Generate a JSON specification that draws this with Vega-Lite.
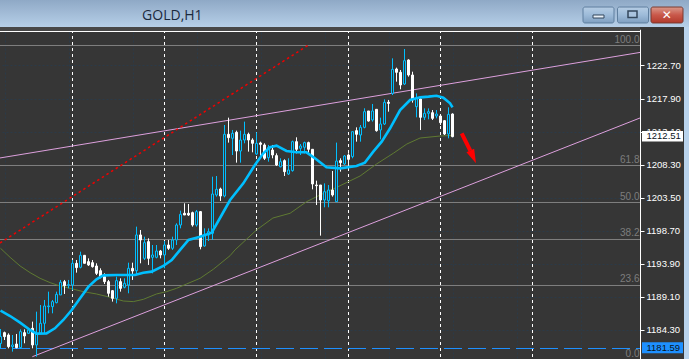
{"$schema":"https://vega.github.io/schema/vega-lite/v6.json","width":640,"height":359,"autosize":{"type":"none"},"padding":{"left":0,"right":49,"top":0,"bottom":0},"background":"#363636","view":{"fill":"#363636","stroke":null},
"datasets":{"candles":[
{"b":0,"o":1182.3,"h":1184.4,"l":1181.6,"c":1183.3,"d":"up"},{"b":1,"o":1183.87,"h":1184.02,"l":1182.8,"c":1183.29,"d":"down"},{"b":2,"o":1183.53,"h":1183.77,"l":1181.59,"c":1181.84,"d":"down"},{"b":3,"o":1181.84,"h":1183.53,"l":1181.11,"c":1182.08,"d":"up"},{"b":4,"o":1182.22,"h":1183.68,"l":1181.59,"c":1181.69,"d":"down"},{"b":5,"o":1181.69,"h":1184.35,"l":1181.59,"c":1184.02,"d":"up"},{"b":6,"o":1183.87,"h":1184.35,"l":1182.32,"c":1183.39,"d":"down"},{"b":7,"o":1183.77,"h":1184.5,"l":1183.68,"c":1184.26,"d":"up"},{"b":8,"o":1184.5,"h":1185.47,"l":1181.59,"c":1182.08,"d":"down"},{"b":9,"o":1182.08,"h":1186.92,"l":1180.38,"c":1183.68,"d":"up"},
{"b":10,"o":1183.77,"h":1187.89,"l":1183.77,"c":1185.23,"d":"up"},{"b":11,"o":1185.23,"h":1188.62,"l":1183.77,"c":1187.75,"d":"up"},{"b":12,"o":1187.65,"h":1189.83,"l":1186.68,"c":1187.75,"d":"up"},{"b":13,"o":1187.65,"h":1188.62,"l":1186.68,"c":1188.38,"d":"up"},{"b":14,"o":1188.23,"h":1189.83,"l":1188.13,"c":1189.44,"d":"up"},{"b":15,"o":1189.35,"h":1191.53,"l":1189.35,"c":1191.19,"d":"up"},{"b":16,"o":1191.28,"h":1191.53,"l":1189.49,"c":1190.7,"d":"down"},{"b":17,"o":1190.75,"h":1191.53,"l":1190.31,"c":1190.85,"d":"up"},{"b":18,"o":1190.8,"h":1194.43,"l":1190.07,"c":1193.95,"d":"up"},{"b":19,"o":1193.95,"h":1194.43,"l":1192.59,"c":1193.32,"d":"down"},
{"b":20,"o":1193.37,"h":1195.64,"l":1193.22,"c":1195.11,"d":"up"},{"b":21,"o":1195.11,"h":1195.16,"l":1193.95,"c":1193.95,"d":"down"},{"b":22,"o":1194.19,"h":1194.67,"l":1193.56,"c":1193.71,"d":"down"},{"b":23,"o":1194.04,"h":1194.43,"l":1193.32,"c":1193.46,"d":"down"},{"b":24,"o":1193.56,"h":1193.95,"l":1192.25,"c":1192.49,"d":"down"},{"b":25,"o":1192.88,"h":1193.22,"l":1191.77,"c":1192.01,"d":"down"},{"b":26,"o":1192.01,"h":1192.49,"l":1190.94,"c":1191.28,"d":"down"},{"b":27,"o":1191.28,"h":1191.53,"l":1189.1,"c":1189.59,"d":"down"},{"b":28,"o":1189.97,"h":1190.07,"l":1188.38,"c":1188.86,"d":"down"},{"b":29,"o":1188.86,"h":1192.01,"l":1188.13,"c":1191.43,"d":"up"},
{"b":30,"o":1191.28,"h":1191.77,"l":1189.83,"c":1190.31,"d":"down"},{"b":31,"o":1190.46,"h":1191.77,"l":1190.31,"c":1191.04,"d":"up"},{"b":32,"o":1190.8,"h":1194.04,"l":1189.59,"c":1193.22,"d":"up"},{"b":33,"o":1193.22,"h":1194.04,"l":1191.53,"c":1192.83,"d":"down"},{"b":34,"o":1192.88,"h":1199.28,"l":1192.25,"c":1198.07,"d":"up"},{"b":35,"o":1198.07,"h":1198.79,"l":1193.95,"c":1197.34,"d":"down"},{"b":36,"o":1194.67,"h":1197.82,"l":1194.43,"c":1196.95,"d":"up"},{"b":37,"o":1197.1,"h":1197.58,"l":1193.71,"c":1194.67,"d":"down"},{"b":38,"o":1194.82,"h":1196.61,"l":1192.49,"c":1195.16,"d":"up"},{"b":39,"o":1194.82,"h":1196.61,"l":1194.67,"c":1195.74,"d":"up"},
{"b":40,"o":1195.74,"h":1195.89,"l":1194.67,"c":1195.16,"d":"down"},{"b":41,"o":1195.16,"h":1197.19,"l":1193.22,"c":1196.61,"d":"up"},{"b":42,"o":1196.61,"h":1197.34,"l":1195.89,"c":1196.13,"d":"down"},{"b":43,"o":1196.13,"h":1197.82,"l":1195.89,"c":1197.34,"d":"up"},{"b":44,"o":1197.34,"h":1199.76,"l":1196.61,"c":1199.52,"d":"up"},{"b":45,"o":1199.52,"h":1201.6,"l":1199.03,"c":1201.07,"d":"up"},{"b":46,"o":1201.22,"h":1202.67,"l":1200.97,"c":1200.97,"d":"down"},{"b":47,"o":1201.22,"h":1202.57,"l":1200.83,"c":1200.97,"d":"down"},{"b":48,"o":1201.31,"h":1201.46,"l":1199.28,"c":1199.52,"d":"down"},{"b":49,"o":1199.52,"h":1201.7,"l":1199.28,"c":1201.46,"d":"up"},
{"b":50,"o":1201.46,"h":1201.55,"l":1195.98,"c":1196.37,"d":"down"},{"b":51,"o":1196.47,"h":1199.03,"l":1196.37,"c":1198.07,"d":"up"},{"b":52,"o":1198.07,"h":1199.03,"l":1197.19,"c":1198.55,"d":"up"},{"b":53,"o":1198.31,"h":1206.54,"l":1197.34,"c":1204.02,"d":"up"},{"b":54,"o":1203.88,"h":1206.64,"l":1203.64,"c":1204.7,"d":"up"},{"b":55,"o":1204.75,"h":1204.94,"l":1203.01,"c":1203.73,"d":"down"},{"b":56,"o":1203.73,"h":1214.05,"l":1203.54,"c":1212.7,"d":"up"},{"b":57,"o":1212.7,"h":1215.12,"l":1211.49,"c":1212.21,"d":"down"},{"b":58,"o":1212.12,"h":1213.33,"l":1209.69,"c":1212.84,"d":"up"},{"b":59,"o":1212.99,"h":1213.23,"l":1208.58,"c":1210.27,"d":"down"},
{"b":60,"o":1210.27,"h":1213.23,"l":1208.58,"c":1211.87,"d":"up"},{"b":61,"o":1211.87,"h":1214.54,"l":1211.39,"c":1212.7,"d":"up"},{"b":62,"o":1212.7,"h":1212.94,"l":1210.18,"c":1211.87,"d":"down"},{"b":63,"o":1211.87,"h":1212.12,"l":1210.08,"c":1211.39,"d":"down"},{"b":64,"o":1209.84,"h":1212.99,"l":1209.69,"c":1211.39,"d":"up"},{"b":65,"o":1211.44,"h":1211.63,"l":1209.45,"c":1211.24,"d":"down"},{"b":66,"o":1211.15,"h":1211.39,"l":1208.97,"c":1209.21,"d":"down"},{"b":67,"o":1209.3,"h":1211.15,"l":1208.72,"c":1210.81,"d":"up"},{"b":68,"o":1210.42,"h":1211.15,"l":1209.21,"c":1209.69,"d":"down"},{"b":69,"o":1209.6,"h":1209.93,"l":1208.09,"c":1208.24,"d":"down"},
{"b":70,"o":1207.98,"h":1209.21,"l":1207.9,"c":1208.72,"d":"up"},{"b":71,"o":1208.87,"h":1209.06,"l":1206.64,"c":1207.27,"d":"down"},{"b":72,"o":1206.93,"h":1209.21,"l":1206.79,"c":1207.51,"d":"up"},{"b":73,"o":1207.42,"h":1211.78,"l":1207.27,"c":1211.63,"d":"up"},{"b":74,"o":1211.63,"h":1212.26,"l":1209.93,"c":1210.52,"d":"down"},{"b":75,"o":1210.66,"h":1211.29,"l":1209.69,"c":1211,"d":"up"},{"b":76,"o":1210.81,"h":1211.63,"l":1209.93,"c":1211.49,"d":"up"},{"b":77,"o":1211.49,"h":1211.63,"l":1209.93,"c":1210.52,"d":"down"},{"b":78,"o":1210.52,"h":1210.52,"l":1204.7,"c":1205.48,"d":"down"},{"b":79,"o":1205.33,"h":1205.96,"l":1202.42,"c":1205.23,"d":"down"},
{"b":80,"o":1205.33,"h":1205.33,"l":1197.97,"c":1203.15,"d":"down"},{"b":81,"o":1203.15,"h":1205.57,"l":1202.09,"c":1204.36,"d":"up"},{"b":82,"o":1203.05,"h":1205.33,"l":1202.09,"c":1204.6,"d":"up"},{"b":83,"o":1204.6,"h":1207.37,"l":1203.64,"c":1203.88,"d":"down"},{"b":84,"o":1202.91,"h":1211.49,"l":1202.91,"c":1208.82,"d":"up"},{"b":85,"o":1208.87,"h":1209.21,"l":1207.27,"c":1208.58,"d":"down"},{"b":86,"o":1208.38,"h":1209.69,"l":1208.24,"c":1209.55,"d":"up"},{"b":87,"o":1209.69,"h":1209.93,"l":1208.09,"c":1209.06,"d":"down"},{"b":88,"o":1209.45,"h":1213.08,"l":1209.21,"c":1213.08,"d":"up"},{"b":89,"o":1213.23,"h":1213.71,"l":1211.63,"c":1212.7,"d":"down"},
{"b":90,"o":1212.6,"h":1214.05,"l":1211.63,"c":1213.71,"d":"up"},{"b":91,"o":1213.71,"h":1216.48,"l":1213.57,"c":1215.99,"d":"up"},{"b":92,"o":1216.09,"h":1216.09,"l":1214.54,"c":1214.63,"d":"down"},{"b":93,"o":1214.78,"h":1217.11,"l":1214.54,"c":1216.09,"d":"up"},{"b":94,"o":1216.33,"h":1216.33,"l":1213.08,"c":1213.23,"d":"down"},{"b":95,"o":1213.33,"h":1215.12,"l":1211.97,"c":1214.2,"d":"up"},{"b":96,"o":1214.2,"h":1217.78,"l":1214.05,"c":1217.35,"d":"up"},{"b":97,"o":1217.35,"h":1217.69,"l":1215.99,"c":1217.2,"d":"down"},{"b":98,"o":1218.65,"h":1223.74,"l":1218.41,"c":1222.14,"d":"up"},{"b":99,"o":1222.19,"h":1222.39,"l":1220.35,"c":1221.71,"d":"down"},
{"b":100,"o":1221.71,"h":1222.05,"l":1219.24,"c":1219.87,"d":"down"},{"b":101,"o":1220.01,"h":1225.1,"l":1219.87,"c":1223.4,"d":"up"},{"b":102,"o":1223.5,"h":1223.6,"l":1221.08,"c":1221.32,"d":"down"},{"b":103,"o":1221.32,"h":1221.8,"l":1217.3,"c":1217.69,"d":"down"},{"b":104,"o":1216.72,"h":1218.65,"l":1215.17,"c":1217.93,"d":"up"},{"b":105,"o":1217.83,"h":1217.93,"l":1213.32,"c":1215.17,"d":"down"},{"b":106,"o":1215.17,"h":1216.47,"l":1214.78,"c":1215.75,"d":"up"},{"b":107,"o":1215.75,"h":1216.47,"l":1214.88,"c":1215.99,"d":"up"},{"b":108,"o":1215.84,"h":1216.23,"l":1214.78,"c":1215.02,"d":"down"},{"b":109,"o":1215.36,"h":1216.23,"l":1215.02,"c":1215.65,"d":"up"},
{"b":110,"o":1215.36,"h":1215.51,"l":1214.05,"c":1214.39,"d":"down"},{"b":111,"o":1214.68,"h":1214.78,"l":1212.6,"c":1212.74,"d":"down"},{"b":112,"o":1212.74,"h":1216.62,"l":1212.11,"c":1215.6,"d":"up"},{"b":113,"o":1215.65,"h":1215.75,"l":1212.26,"c":1212.36,"d":"down"}
]},
"layer":[
{"data":{"values":[{"b":-0.125,"b2":159.875,"p":1225.607},{"b":-0.125,"b2":159.875,"p":1208.165},{"b":-0.125,"b2":159.875,"p":1202.787},{"b":-0.125,"b2":159.875,"p":1197.41},{"b":-0.125,"b2":159.875,"p":1190.724}]},"mark":{"type":"rule","color":"#808080","strokeWidth":1},
"encoding":{"x":{"field":"b","type":"quantitative","title":null,"scale":{"domain":[-0.125,159.875],"nice":false,"zero":false,"padding":0},"axis":{"values":[1,9,17,25,33,41,49,57,65,73,81,89,97,105,113,121,129,137,145,153],"labels":false,"ticks":false,"domain":false,"title":null,"grid":true,"gridColor":"#2b3a48","gridDash":[2,2],"gridWidth":1}},"x2":{"field":"b2"},
"y":{"field":"p","type":"quantitative","title":null,"scale":{"domain":[1180.04,1232.22],"nice":false,"zero":false},"axis":{"orient":"right","values":[1222.7,1217.9,1213.1,1208.3,1203.5,1198.7,1193.9,1189.1,1184.3],"format":".2f","title":null,"grid":true,"gridColor":"#2b3a48","gridDash":[2,2],"gridWidth":1,"domainColor":"#ffffff","domainWidth":1,"tickColor":"#ffffff","tickSize":4,"tickWidth":1,"labelColor":"#ffffff","labelFont":"Liberation Sans","labelFontSize":9.5,"labelPadding":2,"labelBaseline":"middle"}}}},
{"data":{"values":[{"b":18},{"b":41},{"b":64},{"b":87},{"b":110},{"b":133}]},"mark":{"type":"rule","color":"#ffffff","strokeWidth":1,"strokeDash":[3,3]},"encoding":{"x":{"field":"b","type":"quantitative","title":null}}},
{"data":{"values":[{"b":-0.125,"b2":159.875,"p":1181.565}]},"mark":{"type":"rule","color":"#1e90ff","strokeWidth":1,"strokeDash":[18,6],"strokeDashOffset":12},"encoding":{"x":{"field":"b","type":"quantitative","title":null},"x2":{"field":"b2"},"y":{"field":"p","type":"quantitative","title":null}}},
{"data":{"values":[{"b":-0.125,"p":1209.26,"s":"upper"},{"b":159.875,"p":1224.6,"s":"upper"},{"b":7.95,"p":1180.37,"s":"lower"},{"b":159.875,"p":1215.07,"s":"lower"}]},"mark":{"type":"line","color":"#dda0dd","strokeWidth":1},"encoding":{"x":{"field":"b","type":"quantitative","title":null},"y":{"field":"p","type":"quantitative","title":null},"detail":{"field":"s"}}},
{"data":{"values":[{"b":-0.125,"p":1196.9},{"b":77.4,"p":1225.82}]},"mark":{"type":"line","color":"#f00000","strokeWidth":1.5,"strokeDash":[2.5,3]},"encoding":{"x":{"field":"b","type":"quantitative","title":null},"y":{"field":"p","type":"quantitative","title":null}}},
{"data":{"values":[{"b":0,"p":1196.13},{"b":2.4,"p":1194.82},{"b":4.9,"p":1193.56},{"b":7.4,"p":1192.59},{"b":9.9,"p":1191.77},{"b":12.4,"p":1191.14},{"b":14.9,"p":1190.65},{"b":17.4,"p":1190.31},{"b":20.7,"p":1189.83},{"b":24,"p":1189.49},{"b":27.4,"p":1189.01},{"b":30.7,"p":1188.47},{"b":33.2,"p":1188.38},{"b":35.7,"p":1188.71},{"b":39,"p":1189.49},{"b":41.5,"p":1189.83},{"b":44,"p":1190.31},{"b":46.5,"p":1190.94},{"b":49.9,"p":1191.77},{"b":53.2,"p":1193.08},{"b":57.4,"p":1195.06},{"b":58.6,"p":1195.88},{"b":64,"p":1198.79},{"b":68.1,"p":1200.53},{"b":72.4,"p":1201.22},{"b":76.5,"p":1202.9},{"b":79.9,"p":1203.88},{"b":84.9,"p":1205.23},{"b":89.9,"p":1206.64},{"b":94,"p":1208.38},{"b":98.2,"p":1209.94},{"b":101.6,"p":1211.29},{"b":104.9,"p":1212.16},{"b":109.9,"p":1212.45},{"b":112.9,"p":1212.53}]},"mark":{"type":"line","color":"#5f7a32","strokeWidth":1},"encoding":{"x":{"field":"b","type":"quantitative","title":null},"y":{"field":"p","type":"quantitative","title":null}}},
{"data":{"name":"candles"},"mark":{"type":"rule","strokeWidth":1},"encoding":{"x":{"field":"b","type":"quantitative","title":null},"y":{"field":"h","type":"quantitative","title":null},"y2":{"field":"l"},"stroke":{"field":"d","type":"nominal","legend":null,"scale":{"domain":["up","down"],"range":["#00bfff","#ffffff"]}}}},
{"data":{"name":"candles"},"mark":{"type":"bar","size":2,"strokeWidth":1,"orient":"vertical"},"encoding":{"x":{"field":"b","type":"quantitative","title":null},"y":{"field":"o","type":"quantitative","title":null},"y2":{"field":"c"},"stroke":{"field":"d","type":"nominal","legend":null,"scale":{"domain":["up","down"],"range":["#00bfff","#ffffff"]}},"fill":{"field":"d","type":"nominal","legend":null,"scale":{"domain":["up","down"],"range":["#363636","#ffffff"]}}}},
{"data":{"values":[{"b":0,"p":1187.07},{"b":2.4,"p":1186.29},{"b":4.9,"p":1185.32},{"b":7.4,"p":1184.26},{"b":9,"p":1183.73},{"b":11.5,"p":1183.77},{"b":13.6,"p":1184.5},{"b":15.7,"p":1185.71},{"b":17.8,"p":1187.16},{"b":19.9,"p":1188.86},{"b":22,"p":1190.56},{"b":24,"p":1191.62},{"b":25.7,"p":1192.2},{"b":29,"p":1192.25},{"b":33.6,"p":1192.25},{"b":35.7,"p":1192.59},{"b":37.8,"p":1192.74},{"b":40.7,"p":1193.56},{"b":42.8,"p":1194.43},{"b":44.9,"p":1195.89},{"b":47,"p":1197.34},{"b":49.9,"p":1197.82},{"b":52.8,"p":1198.41},{"b":55.3,"p":1200.97},{"b":57.4,"p":1203.15},{"b":60.7,"p":1205.57},{"b":63.6,"p":1208.24},{"b":65.7,"p":1209.93},{"b":67.4,"p":1210.81},{"b":69,"p":1211.05},{"b":71.5,"p":1210.27},{"b":74,"p":1210.08},{"b":76.5,"p":1210.08},{"b":78.6,"p":1209.21},{"b":81.5,"p":1207.9},{"b":84.9,"p":1207.75},{"b":89,"p":1208.09},{"b":91.1,"p":1208.58},{"b":93.2,"p":1210.18},{"b":95.3,"p":1211.63},{"b":97.4,"p":1213.57},{"b":99.9,"p":1216.23},{"b":102.4,"p":1217.69},{"b":104.9,"p":1218.07},{"b":107,"p":1218.17},{"b":109,"p":1218.31},{"b":110.7,"p":1218.02},{"b":112.4,"p":1217.2},{"b":113,"p":1216.62}]},"mark":{"type":"line","color":"#00bfff","strokeWidth":2.6},"encoding":{"x":{"field":"b","type":"quantitative","title":null},"y":{"field":"p","type":"quantitative","title":null}}},
{"data":{"values":[{"b":115.3,"p":1212.84,"b2":117.45,"p2":1210.34}]},"mark":{"type":"rule","color":"#ff0000","strokeWidth":4},"encoding":{"x":{"field":"b","type":"quantitative","title":null},"y":{"field":"p","type":"quantitative","title":null},"x2":{"field":"b2"},"y2":{"field":"p2"}}},
{"data":{"values":[{"b":118.16,"p":1209.41}]},"mark":{"type":"point","shape":"M -0.6 -1 L 0.6 -1 L 0 1 Z","filled":true,"opacity":1,"color":"#ff0000","size":196,"angle":-24},"encoding":{"x":{"field":"b","type":"quantitative","title":null},"y":{"field":"p","type":"quantitative","title":null}}},
{"data":{"values":[{"b":159.75,"p":1226.45,"t":"100.0"},{"b":159.75,"p":1208.96,"t":"61.8"},{"b":159.75,"p":1203.63,"t":"50.0"},{"b":159.75,"p":1198.31,"t":"38.2"},{"b":159.75,"p":1191.62,"t":"23.6"},{"b":159.75,"p":1180.81,"t":"0.0"}]},"mark":{"type":"text","align":"right","baseline":"middle","color":"#7d7d7d","font":"Liberation Sans","fontSize":10},"encoding":{"x":{"field":"b","type":"quantitative","title":null},"y":{"field":"p","type":"quantitative","title":null},"text":{"field":"t"}}},
{"data":{"values":[{"b":160.375,"b2":170.625,"p":1213.18,"p2":1211.65}]},"mark":{"type":"rect","fill":"#ffffff"},"encoding":{"x":{"field":"b","type":"quantitative","title":null},"x2":{"field":"b2"},"y":{"field":"p","type":"quantitative","title":null},"y2":{"field":"p2"}}},
{"data":{"values":[{"b":160.375,"b2":170.625,"p":1182.47,"p2":1180.87}]},"mark":{"type":"rect","fill":"#1e90ff"},"encoding":{"x":{"field":"b","type":"quantitative","title":null},"x2":{"field":"b2"},"y":{"field":"p","type":"quantitative","title":null},"y2":{"field":"p2"}}},
{"data":{"values":[{"b":161.5,"p":1212.42,"t":"1212.51"},{"b":161.5,"p":1181.67,"t":"1181.59"}]},"mark":{"type":"text","align":"left","baseline":"middle","color":"#0a1420","font":"Liberation Sans","fontSize":9.5},"encoding":{"x":{"field":"b","type":"quantitative","title":null},"y":{"field":"p","type":"quantitative","title":null},"text":{"field":"t"}}},
{"data":{"values":[{"b":-0.125,"b2":172.125,"p":1232.22,"p2":1228.3}]},"mark":{"type":"rect","fill":{"x1":0,"y1":0,"x2":0,"y2":1,"gradient":"linear","stops":[{"offset":0,"color":"#8fa9c6"},{"offset":1,"color":"#b6cfe8"}]}},"encoding":{"x":{"field":"b","type":"quantitative","title":null},"x2":{"field":"b2"},"y":{"field":"p","type":"quantitative","title":null},"y2":{"field":"p2"}}},
{"data":{"values":[{"b":-0.125,"b2":159.875,"p":1228.3,"p2":1227.71}]},"mark":{"type":"rect","fill":"#484848"},"encoding":{"x":{"field":"b","type":"quantitative","title":null},"x2":{"field":"b2"},"y":{"field":"p","type":"quantitative","title":null},"y2":{"field":"p2"}}},
{"data":{"values":[{"b":159.875,"b2":170.875,"p":1228.3,"p2":1227.9}]},"mark":{"type":"rect","fill":"#363636"},"encoding":{"x":{"field":"b","type":"quantitative","title":null},"x2":{"field":"b2"},"y":{"field":"p","type":"quantitative","title":null},"y2":{"field":"p2"}}},
{"data":{"values":[{"b":-0.125,"b2":159.875,"p":1227.64}]},"mark":{"type":"rule","color":"#ffffff","strokeWidth":1},"encoding":{"x":{"field":"b","type":"quantitative","title":null},"x2":{"field":"b2"},"y":{"field":"p","type":"quantitative","title":null}}},
{"data":{"values":[{"b":170.875,"b2":172.125,"p":1228.3,"p2":1180.04}]},"mark":{"type":"rect","fill":"#b9d3ec"},"encoding":{"x":{"field":"b","type":"quantitative","title":null},"x2":{"field":"b2"},"y":{"field":"p","type":"quantitative","title":null},"y2":{"field":"p2"}}},
{"data":{"values":[{"b":145.625,"b2":153.375,"p":1231.2,"p2":1228.88},{"b":154.25,"b2":162,"p":1231.2,"p2":1228.88}]},"mark":{"type":"rect","stroke":"#5f7f9f","strokeWidth":1,"cornerRadius":2,"fill":{"x1":0,"y1":0,"x2":0,"y2":1,"gradient":"linear","stops":[{"offset":0,"color":"#b6cde4"},{"offset":0.5,"color":"#9dbbd9"},{"offset":1,"color":"#7f9fc0"}]}},"encoding":{"x":{"field":"b","type":"quantitative","title":null},"x2":{"field":"b2"},"y":{"field":"p","type":"quantitative","title":null},"y2":{"field":"p2"}}},
{"data":{"values":[{"b":162.625,"b2":170.625,"p":1231.2,"p2":1228.88}]},"mark":{"type":"rect","stroke":"#7a3a30","strokeWidth":1,"cornerRadius":2,"fill":{"x1":0,"y1":0,"x2":0,"y2":1,"gradient":"linear","stops":[{"offset":0,"color":"#d99a8c"},{"offset":0.5,"color":"#c9584a"},{"offset":1,"color":"#b23a2c"}]}},"encoding":{"x":{"field":"b","type":"quantitative","title":null},"x2":{"field":"b2"},"y":{"field":"p","type":"quantitative","title":null},"y2":{"field":"p2"}}},
{"data":{"values":[{"b":148.125,"b2":150.875,"p":1230.04,"p2":1229.6}]},"mark":{"type":"rect","fill":"#e8f0f8","stroke":"#33475c","strokeWidth":1},"encoding":{"x":{"field":"b","type":"quantitative","title":null},"x2":{"field":"b2"},"y":{"field":"p","type":"quantitative","title":null},"y2":{"field":"p2"}}},
{"data":{"values":[{"b":156.875,"b2":159.125,"p":1230.62,"p2":1229.68}]},"mark":{"type":"rect","fill":"#a9c3de","stroke":"#33475c","strokeWidth":1.5},"encoding":{"x":{"field":"b","type":"quantitative","title":null},"x2":{"field":"b2"},"y":{"field":"p","type":"quantitative","title":null},"y2":{"field":"p2"}}},
{"data":{"values":[{"b":166.6,"p":1230.04,"t":"✕"}]},"mark":{"type":"text","align":"center","baseline":"middle","color":"#ffffff","font":"DejaVu Sans","fontWeight":"bold","fontSize":12},"encoding":{"x":{"field":"b","type":"quantitative","title":null},"y":{"field":"p","type":"quantitative","title":null},"text":{"field":"t"}}},
{"data":{"values":[{"b":35.4,"p":1229.9,"t":"GOLD,H1"}]},"mark":{"type":"text","align":"left","baseline":"middle","color":"#1b2a3d","font":"Open Sans","fontSize":14},"encoding":{"x":{"field":"b","type":"quantitative","title":null},"y":{"field":"p","type":"quantitative","title":null},"text":{"field":"t"}}}
]}
